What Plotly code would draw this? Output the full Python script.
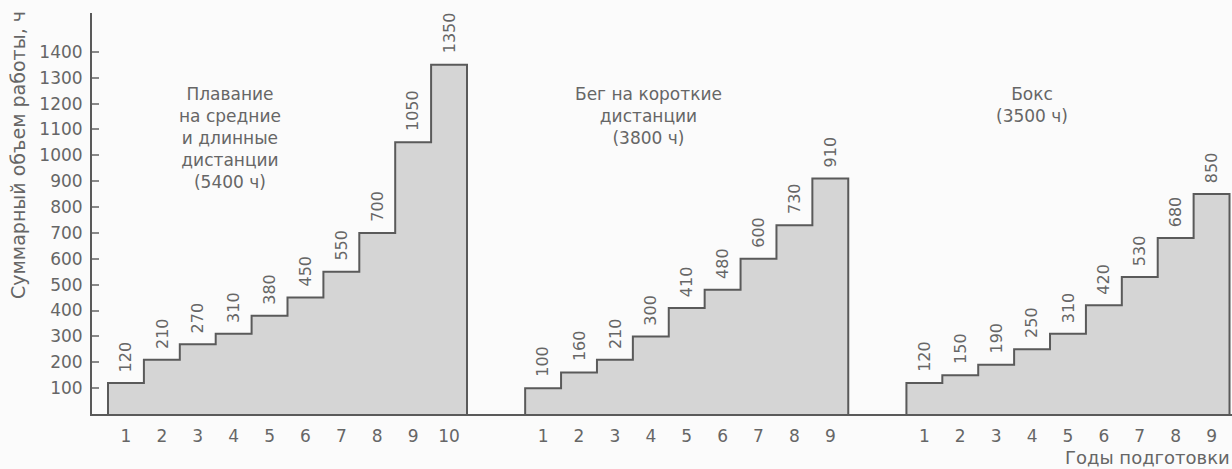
import plotly.graph_objects as go

# Годы подготовки и суммарный объём работы (ч) по видам спорта
years_swim = list(range(1, 11))
hours_swim = [120, 210, 270, 310, 380, 450, 550, 700, 1050, 1350]

years_run = list(range(1, 10))
hours_run = [100, 160, 210, 300, 410, 480, 600, 730, 910]

years_box = list(range(1, 10))
hours_box = [120, 150, 190, 250, 310, 420, 530, 680, 850]

group_titles = [
    "Плавание<br>на средние<br>и длинные<br>дистанции<br>(5400 ч)",
    "Бег на короткие<br>дистанции<br>(3800 ч)",
    "Бокс<br>(3500 ч)",
]
y_tick_values = [100, 200, 300, 400, 500, 600, 700, 800, 900, 1000, 1100, 1200, 1300, 1400]

# --- layout geometry (pixels) ---
W, H = 1232, 469
ML, MR, MT, MB = 92, 0, 13, 55
PW, PH = W - ML - MR, H - MT - MB
STEP_PX = 35.9          # width of one year step
GAP = 1.62              # empty space between groups, in steps
X0 = -0.5 - 16 / STEP_PX
X1 = X0 + PW / STEP_PX
Y_MAX = 1550

FONT = "DejaVu Sans"
TXT = "#666666"
FILL = "#d5d5d5"
EDGE = "#5a5a5a"


def px_to_paper_x(px):
    return (px - ML) / PW


def px_to_paper_y(py):
    return (MT + PH - py) / PH


groups = [(years_swim, hours_swim), (years_run, hours_run), (years_box, hours_box)]

fig = go.Figure()
annotations = []
tick_vals, tick_text = [], []

start = 0.0
for years, hours in groups:
    centers = [start + i for i in range(len(years))]
    xs = [centers[0] - 0.5]
    ys = [0]
    for c, v in zip(centers, hours):
        xs += [c - 0.5, c + 0.5]
        ys += [v, v]
    xs.append(centers[-1] + 0.5)
    ys.append(0)
    fig.add_trace(go.Scatter(
        x=xs, y=ys, mode="lines", fill="toself", fillcolor=FILL,
        line=dict(color=EDGE, width=2), hoverinfo="skip", showlegend=False,
    ))
    for c, v, yr in zip(centers, hours, years):
        annotations.append(dict(
            x=c, y=v, xref="x", yref="y", text=str(v), textangle=-90,
            showarrow=False, xanchor="center", yanchor="bottom", yshift=9,
            font=dict(family=FONT, size=16, color=TXT),
        ))
        tick_vals.append(c)
        tick_text.append(str(yr))
    start = centers[-1] + 1 + GAP

# group captions
for title, cx in zip(group_titles, [230, 648, 1032]):
    annotations.append(dict(
        x=px_to_paper_x(cx), y=px_to_paper_y(82), xref="paper", yref="paper",
        text=title, showarrow=False, xanchor="center", yanchor="top",
        align="center", font=dict(family=FONT, size=17, color=TXT),
    ))

# axis titles
annotations.append(dict(
    x=px_to_paper_x(18), y=px_to_paper_y(155), xref="paper", yref="paper",
    text="Суммарный объем работы, ч", textangle=-90, showarrow=False,
    xanchor="center", yanchor="middle", font=dict(family=FONT, size=19, color=TXT),
))
annotations.append(dict(
    x=px_to_paper_x(1232), y=px_to_paper_y(457), xref="paper", yref="paper",
    text="Годы подготовки", showarrow=False,
    xanchor="right", yanchor="middle", font=dict(family=FONT, size=18, color=TXT),
))

fig.update_layout(
    width=W, height=H,
    margin=dict(l=ML, r=MR, t=MT, b=MB, pad=0),
    paper_bgcolor="#fbfbfb", plot_bgcolor="#fbfbfb",
    annotations=annotations,
    xaxis=dict(
        range=[X0, X1], showgrid=False, zeroline=False,
        showline=True, linecolor=EDGE, linewidth=2,
        tickmode="array", tickvals=tick_vals, ticktext=tick_text,
        ticks="", tickfont=dict(family=FONT, size=17, color=TXT),
        ticklabelstandoff=6,
    ),
    yaxis=dict(
        range=[0, Y_MAX], showgrid=False, zeroline=False,
        showline=True, linecolor=EDGE, linewidth=2,
        tickmode="array", tickvals=y_tick_values,
        ticks="inside", ticklen=7, tickwidth=2, tickcolor="#8a8a8a",
        tickfont=dict(family=FONT, size=17, color=TXT),
        ticklabelstandoff=4,
    ),
)

fig.write_html("out.html")
